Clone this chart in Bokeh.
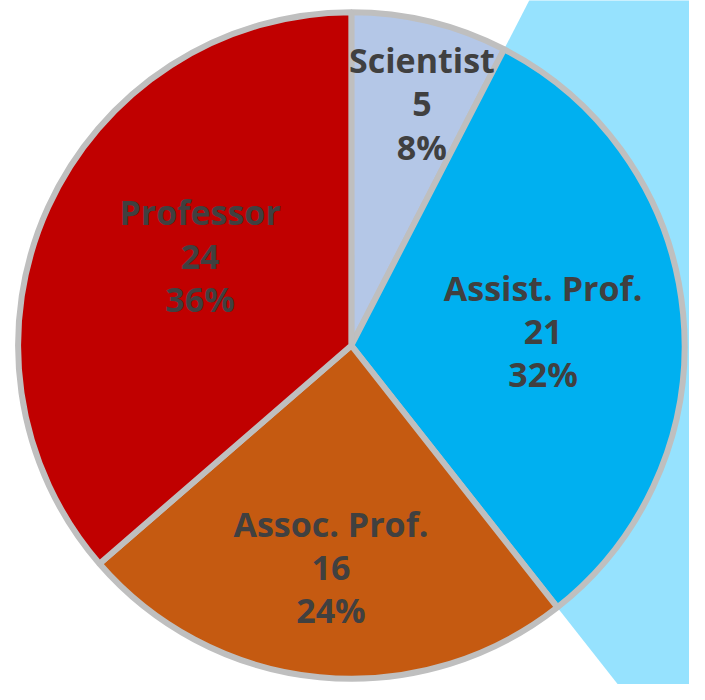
import math
from bokeh.plotting import figure
from bokeh.models import Range1d, ColumnDataSource
from bokeh.core.properties import value
from bokeh.embed import file_html
from bokeh.resources import INLINE

# ---- data ----
categories = ["Scientist", "Assist. Prof.", "Assoc. Prof.", "Professor"]
counts = [5, 21, 16, 24]
colors = ["#B4C7E7", "#00B0F0", "#C55A11", "#C00000"]

# ---- layout (pixels) ----
W, H = 689, 684
S = W / 705.0                      # scale reference geometry to the available area
CX, CY = 359 * S, H - 353 * S
R = 341 * S
# label placement: distance from centre (fraction of R) and angle tweak (deg, clockwise)
label_frac = [0.757, 0.577, 0.667, 0.528]
label_dang = [2.6, 1.1, -0.2, 6.2]

total = sum(counts)
starts, ends, mids = [], [], []
cum = 0
for c in counts:
    a0 = cum / total
    cum += c
    a1 = cum / total
    starts.append(math.pi / 2 - a0 * 2 * math.pi)
    ends.append(math.pi / 2 - a1 * 2 * math.pi)
    mids.append((a0 + a1) / 2 * 360)

labels = [f"{cat}\n{c}\n{round(c / total * 100)}%" for cat, c in zip(categories, counts)]
lx, ly = [], []
for m, f, d in zip(mids, label_frac, label_dang):
    th = math.radians(m + d)
    lx.append(CX + f * R * math.sin(th))
    ly.append(CY + f * R * math.cos(th))

p = figure(width=W, height=H, x_range=Range1d(0, W), y_range=Range1d(0, H),
           output_backend="svg", toolbar_location=None, min_border=0)
p.axis.visible = False
p.grid.visible = False
p.outline_line_color = None
p.background_fill_color = "white"
p.border_fill_color = "white"

# highlight wedge behind the "Assist. Prof." slice
hi = categories.index("Assist. Prof.")
p.wedge(x=CX, y=CY, radius=1200, start_angle=starts[hi], end_angle=ends[hi],
        direction="clock", fill_color="#96E2FE", line_color=None)

src = ColumnDataSource(dict(start=starts, end=ends, color=colors, cat=categories))
p.wedge(x=CX, y=CY, radius=R, start_angle="start", end_angle="end", direction="clock",
        fill_color="color", line_color="#BFBFBF", line_width=6, source=src)

p.text(x=lx, y=ly, text=labels, text_align="center", text_baseline="middle",
       text_font=value("Open Sans"), text_font_style="bold", text_font_size="34px",
       text_color="#404040", text_line_height=0.94)

open("out.html", "w").write(file_html(p, INLINE))
